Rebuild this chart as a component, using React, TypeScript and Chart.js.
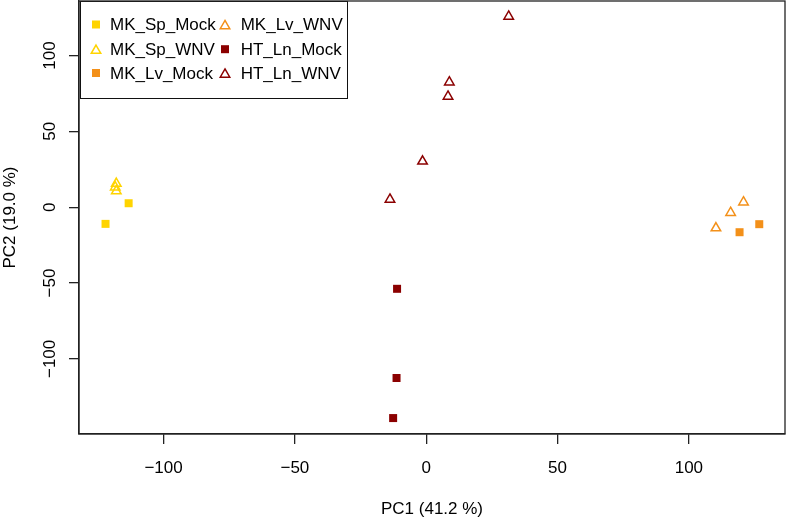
import React, { useEffect, useRef } from 'react';
import { Chart, registerables } from 'chart.js';

Chart.register(...registerables);

// ---- data ----
const seriesNames = ['MK_Sp_Mock', 'MK_Sp_WNV', 'MK_Lv_Mock', 'MK_Lv_WNV', 'HT_Ln_Mock', 'HT_Ln_WNV'];
const mkSpMock = [{ x: -122.1, y: -11.0 }, { x: -113.3, y: 2.6 }];
const mkSpWnv = [{ x: -118.0, y: 15.6 }, { x: -118.4, y: 13.2 }, { x: -118.0, y: 10.6 }];
const mkLvMock = [{ x: 119.3, y: -16.5 }, { x: 126.8, y: -11.2 }];
const mkLvWnv = [{ x: 120.8, y: 3.3 }, { x: 115.9, y: -3.6 }, { x: 110.3, y: -13.8 }];
const htLnMock = [{ x: -11.1, y: -53.8 }, { x: -11.3, y: -112.6 }, { x: -12.6, y: -139.0 }];
const htLnWnv = [{ x: 31.4, y: 125.7 }, { x: 8.8, y: 82.4 }, { x: 8.3, y: 73.0 }, { x: -1.4, y: 30.2 }, { x: -13.8, y: 5.1 }];
const xTicks = [-100, -50, 0, 50, 100];
const yTicks = [-100, -50, 0, 50, 100];
const xTitle = 'PC1 (41.2 %)';
const yTitle = 'PC2 (19.0 %)';

const GOLD = '#FFD400';
const ORANGE = '#F39019';
const DARKRED = '#8B0000';
const FONT = '"Liberation Sans", Arial, sans-serif';

const fmt = (v: number) => (v < 0 ? '\u2212' + Math.abs(v) : String(v));

function drawSymbol(ctx: CanvasRenderingContext2D, style: string, color: string, x: number, y: number) {
  if (style === 'rect') {
    const s = 4;
    ctx.fillStyle = color;
    ctx.fillRect(x - s, y - s, 2 * s, 2 * s);
  } else {
    const r = 5.5;
    const cy = y + r / 4;
    ctx.beginPath();
    for (let k = 0; k < 3; k++) {
      const a = (k * 2 * Math.PI) / 3;
      const px = x + Math.sin(a) * r;
      const py = cy - Math.cos(a) * r;
      if (k === 0) ctx.moveTo(px, py);
      else ctx.lineTo(px, py);
    }
    ctx.closePath();
    ctx.strokeStyle = color;
    ctx.lineWidth = 1.5;
    ctx.stroke();
  }
}

const boxPlugin = {
  id: 'rBox',
  afterDraw(chart: any) {
    const { ctx, chartArea: a } = chart;
    ctx.save();
    ctx.strokeStyle = '#222';
    ctx.lineWidth = 1.3;
    ctx.strokeRect(a.left, a.top, a.right - a.left, a.bottom - a.top);
    ctx.restore();
  },
};

const legendPlugin = {
  id: 'rLegend',
  afterDatasetsDraw(chart: any) {
    const { ctx, chartArea: a } = chart;
    const x0 = a.left + 1;
    const y0 = a.top;
    const w = 267;
    const h = 97;
    ctx.save();
    ctx.fillStyle = '#fff';
    ctx.fillRect(x0, y0, w, h);
    ctx.strokeStyle = '#111';
    ctx.lineWidth = 1;
    ctx.strokeRect(x0 + 0.5, y0 + 0.5, w, h);
    const symX = [16, 145];
    const txtX = [30, 160.7];
    const rowY = [23.5, 48.2, 72];
    ctx.font = '17px ' + FONT;
    ctx.textBaseline = 'middle';
    ctx.textAlign = 'left';
    chart.data.datasets.forEach((ds: any, i: number) => {
      const col = i < 3 ? 0 : 1;
      const row = i % 3;
      const color = ds.pointStyle === 'rect' ? ds.pointBackgroundColor : ds.pointBorderColor;
      drawSymbol(ctx, ds.pointStyle, color, x0 + symX[col], y0 + rowY[row]);
      ctx.fillStyle = '#000';
      ctx.fillText(ds.label, x0 + txtX[col], y0 + rowY[row] + 1);
    });
    ctx.restore();
  },
};

function squareSet(label: string, data: any[], color: string) {
  return {
    label,
    data,
    pointStyle: 'rect',
    pointRadius: 5.66,
    pointHoverRadius: 5.66,
    pointBackgroundColor: color,
    pointBorderColor: color,
    pointBorderWidth: 0,
    showLine: false,
  };
}

function triangleSet(label: string, data: any[], color: string) {
  return {
    label,
    data,
    pointStyle: 'triangle',
    pointRadius: 5.5,
    pointHoverRadius: 5.5,
    pointBackgroundColor: 'rgba(0,0,0,0)',
    pointBorderColor: color,
    pointBorderWidth: 1.5,
    showLine: false,
  };
}

export default function App() {
  const ref = useRef<HTMLCanvasElement | null>(null);

  useEffect(() => {
    if (!ref.current) return;
    const chart = new Chart(ref.current, {
      type: 'scatter',
      data: {
        datasets: [
          squareSet(seriesNames[0], mkSpMock, GOLD),
          triangleSet(seriesNames[1], mkSpWnv, GOLD),
          squareSet(seriesNames[2], mkLvMock, ORANGE),
          triangleSet(seriesNames[3], mkLvWnv, ORANGE),
          squareSet(seriesNames[4], htLnMock, DARKRED),
          triangleSet(seriesNames[5], htLnWnv, DARKRED),
        ] as any,
      },
      options: {
        animation: false,
        responsive: false,
        devicePixelRatio: 1,
        layout: { autoPadding: false, padding: { top: 1, right: 1, left: 0, bottom: 0 } },
        plugins: {
          legend: { display: false },
          tooltip: { enabled: false },
        },
        scales: {
          x: {
            type: 'linear',
            min: -132.2,
            max: 136.6,
            afterFit: (s: any) => {
              s.height = 84;
              s.paddingLeft = 0;
              s.paddingRight = 0;
              s.paddingTop = 0;
              s.paddingBottom = 0;
            },
            afterBuildTicks: (s: any) => {
              s.ticks = xTicks.map((v) => ({ value: v }));
            },
            ticks: {
              callback: (v: any) => fmt(Number(v)),
              font: { family: FONT, size: 17 },
              color: '#000',
              padding: 14,
              maxRotation: 0,
              minRotation: 0,
            },
            grid: { drawOnChartArea: false, drawTicks: true, tickLength: 10, color: '#222', lineWidth: 1.3 },
            border: { display: true, color: '#222', width: 1.3 },
            title: {
              display: true,
              text: xTitle,
              font: { family: FONT, size: 17 },
              color: '#000',
              padding: { top: 0, bottom: -2 },
            },
          },
          y: {
            type: 'linear',
            min: -149.5,
            max: 135.9,
            afterFit: (s: any) => {
              s.width = 79;
              s.paddingLeft = 0;
              s.paddingRight = 0;
              s.paddingTop = 0;
              s.paddingBottom = 0;
            },
            afterBuildTicks: (s: any) => {
              s.ticks = yTicks.map((v) => ({ value: v }));
            },
            ticks: {
              callback: (v: any) => fmt(Number(v)),
              font: { family: FONT, size: 17 },
              color: '#000',
              padding: 0,
              minRotation: 90,
              maxRotation: 90,
              crossAlign: 'center',
            },
            grid: { drawOnChartArea: false, drawTicks: true, tickLength: 10, color: '#222', lineWidth: 1.3 },
            border: { display: true, color: '#222', width: 1.3 },
            title: {
              display: true,
              text: yTitle,
              font: { family: FONT, size: 17 },
              color: '#000',
              padding: 0,
            },
          },
        },
      } as any,
      plugins: [boxPlugin, legendPlugin],
    });
    return () => chart.destroy();
  }, []);

  return (
    <div style={{ position: 'absolute', left: 0, top: 0, width: 786, height: 518, background: '#fff' }}>
      <canvas ref={ref} width={786} height={518} style={{ width: 786, height: 518, display: 'block' }} />
    </div>
  );
}
